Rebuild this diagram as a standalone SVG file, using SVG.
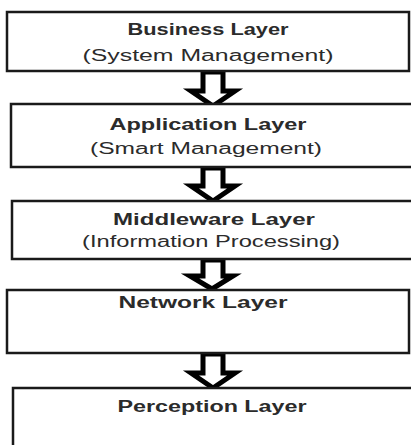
<svg xmlns="http://www.w3.org/2000/svg" width="411" height="445" viewBox="0 0 411 445">
<style>
.box{fill:#fff;stroke:#1a1a1a;stroke-width:2.5}
.arr{fill:#fff;stroke:#000;stroke-width:5;stroke-linejoin:miter}
.t{font-family:"Liberation Sans",Arial,sans-serif;fill:#2b2b2b;text-anchor:middle}
.b{font-weight:bold;font-size:16px}
.r{font-size:16px}
</style>
<rect width="411" height="445" fill="#fff"/>
<g id="connectors">
<polygon class="arr" points="203,72 223,72 223,91 235,91 213,106 191,91 203,91"/>
<polygon class="arr" points="203,168 223,168 223,186 235,186 213,201 191,186 203,186"/>
<polygon class="arr" points="203,260 223,260 223,276 233,276 212,289 190,276 203,276"/>
<polygon class="arr" points="203,354 223,354 223,373 235,373 213,388 191,373 203,373"/>
</g>
<g id="business">
<rect class="box" x="7" y="12" width="402" height="59"/>
<text class="t b" x="208" y="35" textLength="161" lengthAdjust="spacingAndGlyphs">Business Layer</text>
<text class="t r" x="208" y="61" textLength="251" lengthAdjust="spacingAndGlyphs">(System Management)</text>
</g>
<g id="application">
<rect class="box" x="11" y="104" width="405" height="63"/>
<text class="t b" x="208" y="130" textLength="197" lengthAdjust="spacingAndGlyphs">Application Layer</text>
<text class="t r" x="206" y="154" textLength="232" lengthAdjust="spacingAndGlyphs">(Smart Management)</text>
</g>
<g id="middleware">
<rect class="box" x="12" y="201" width="405" height="58"/>
<text class="t b" x="214" y="225" textLength="202" lengthAdjust="spacingAndGlyphs">Middleware Layer</text>
<text class="t r" x="211" y="247" textLength="258" lengthAdjust="spacingAndGlyphs">(Information Processing)</text>
</g>
<g id="network">
<rect class="box" x="7" y="290" width="402" height="63"/>
<text class="t b" x="203" y="308" textLength="169" lengthAdjust="spacingAndGlyphs">Network Layer</text>
</g>
<g id="perception">
<rect class="box" x="13" y="388" width="405" height="70"/>
<text class="t b" x="212" y="412" textLength="189" lengthAdjust="spacingAndGlyphs">Perception Layer</text>
</g>
</svg>
